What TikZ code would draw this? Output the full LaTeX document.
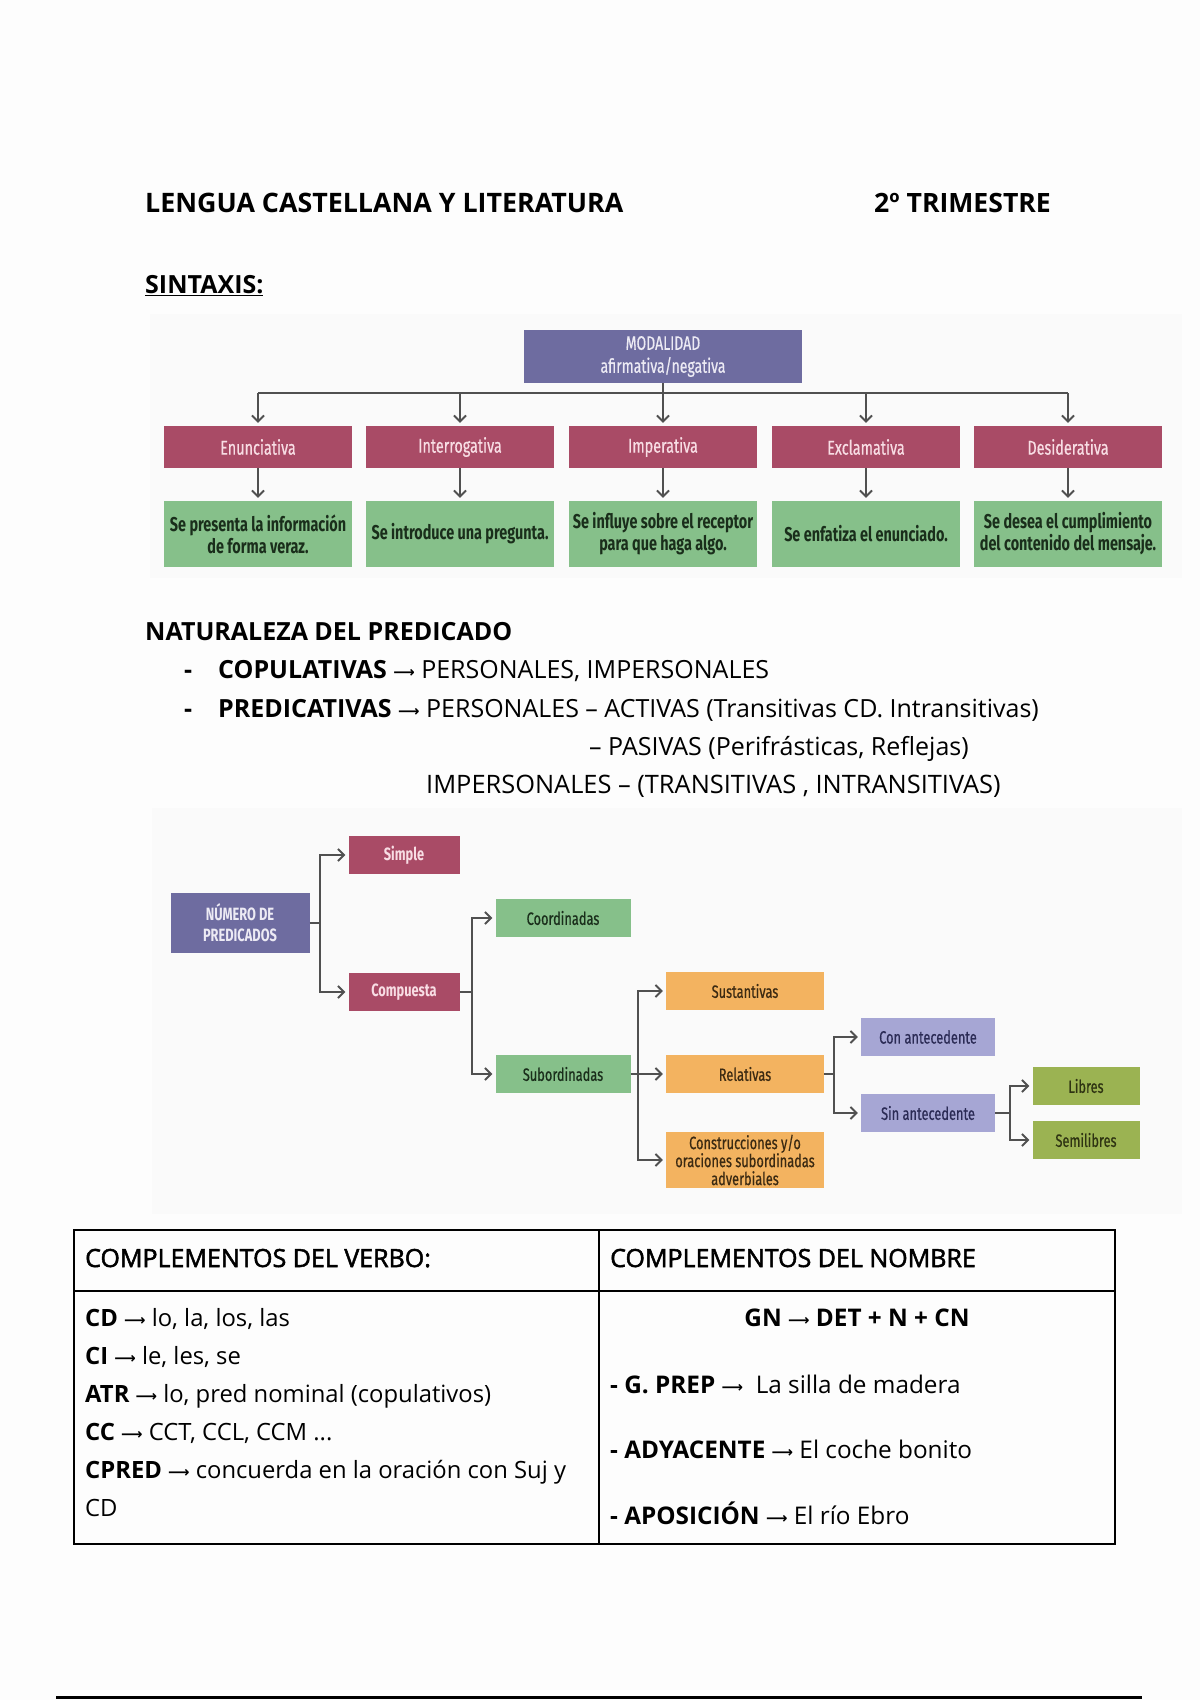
\documentclass[tikz,border=0pt]{standalone}
\usepackage{fontspec}
\setmainfont{Open Sans}
\newfontfamily\semib[FakeBold=2]{Open Sans}
\newfontfamily\condfont[FakeStretch=0.72]{Fira Sans}
\newfontfamily\condmed[FakeStretch=0.72,FakeBold=0.6]{Fira Sans}
\newfontfamily\arrfont{DejaVu Sans}
\usetikzlibrary{arrows.meta}
\definecolor{cPage}{HTML}{FDFDFD}
\definecolor{cPurple}{HTML}{6E6CA0}
\definecolor{cPurpleTxt}{HTML}{ECEAF4}
\definecolor{cRed}{HTML}{A94B66}
\definecolor{cRedTxt}{HTML}{F8DDE4}
\definecolor{cGreen}{HTML}{86C08A}
\definecolor{cGreenTxt}{HTML}{1A2E1B}
\definecolor{cOrange}{HTML}{F3B360}
\definecolor{cOrangeTxt}{HTML}{3B2A12}
\definecolor{cLav}{HTML}{A6A6D4}
\definecolor{cLavTxt}{HTML}{2B2B55}
\definecolor{cOlive}{HTML}{9BB352}
\definecolor{cOliveTxt}{HTML}{2E3312}
\definecolor{cLine}{HTML}{505050}
\definecolor{cPanel}{HTML}{FAFAFA}
\newcommand\arr{{\arrfont\fontsize{15}{15}\selectfont\raisebox{1pt}{⟶}}}
\tikzset{
  txt/.style={inner sep=0pt, anchor=base west, font=\fontsize{25}{30}\selectfont},
  ttxt/.style={txt, font=\fontsize{24.3}{30}\selectfont},
  ltxt/.style={txt, font=\fontsize{23.8}{30}\selectfont},
  box/.style={rectangle, inner sep=0pt, align=center},
  purplebox/.style={box, fill=cPurple, text=cPurpleTxt, font=\condmed\fontsize{19.5}{23}\selectfont},
  redbox/.style={box, fill=cRed, text=cRedTxt, font=\condmed\fontsize{20}{23}\selectfont},
  greenbox/.style={box, fill=cGreen, text=cGreenTxt, font=\condfont\bfseries\fontsize{20}{22}\selectfont},
  smallbox/.style={box, font=\condmed\fontsize{17.8}{18}\selectfont},
  greenbox2/.style={smallbox, fill=cGreen, text=cGreenTxt},
  orangebox/.style={smallbox, fill=cOrange, text=cOrangeTxt},
  lavbox/.style={smallbox, fill=cLav, text=cLavTxt},
  olivebox/.style={smallbox, fill=cOlive, text=cOliveTxt},
  conn/.style={draw=cLine, line width=2pt},
  arrw/.style={conn, -{Straight Barb[length=6pt,width=12pt,line width=1.9pt]}, shorten >=3pt},
}
\begin{document}
\begin{tikzpicture}[x=1pt,y=-1pt]
\fill[cPage] (0,0) rectangle (1200,1700);
\useasboundingbox (0,0) rectangle (1200,1700);
% panels
\fill[cPanel] (150,314) rectangle (1182,578);
\fill[cPanel] (152,808) rectangle (1182,1214);

% header
\node[txt, font=\fontsize{26.8}{30}\selectfont] (title) at (145,212) {\bfseries LENGUA CASTELLANA Y LITERATURA};
\node[txt, font=\fontsize{26.6}{30}\selectfont] (trim) at (874,212) {\bfseries 2º TRIMESTRE};
\node[txt] (sint) at (145,293) {\bfseries\underline{SINTAXIS:}};

% Diagram 1
\node[purplebox, minimum width=278pt, minimum height=53pt] (modal) at (663,356.5) {MODALIDAD\\afirmativa/negativa};
\foreach \n/\x/\t in {enun/258/Enunciativa, inte/460/Interrogativa, impe/663/Imperativa, excl/866/Exclamativa, desi/1068/Desiderativa}
  \node[redbox, minimum width=188pt, minimum height=42pt] (\n) at (\x,447) {\t};
\node[greenbox, minimum width=188pt, minimum height=66pt] (enunG) at (258,534) {Se presenta la información\\de forma veraz.};
\node[greenbox, minimum width=188pt, minimum height=66pt] (inteG) at (460,534) {Se introduce una pregunta.};
\node[greenbox, minimum width=188pt, minimum height=66pt] (impeG) at (663,534) {Se influye sobre el receptor\\para que haga algo.};
\node[greenbox, minimum width=188pt, minimum height=66pt] (exclG) at (866,534) {Se enfatiza el enunciado.};
\node[greenbox, minimum width=188pt, minimum height=66pt] (desiG) at (1068,534) {Se desea el cumplimiento\\del contenido del mensaje.};
\coordinate (bus) at (663,393);
\draw[conn] (enun.north |- bus) -- (desi.north |- bus);
\draw[arrw] (modal.south) -- (impe.north);
\foreach \n in {enun, inte, excl, desi}
  \draw[arrw] (\n.north |- bus) -- (\n.north);
\foreach \n in {enun, inte, impe, excl, desi}
  \draw[arrw] (\n.south) -- (\n G.north);

% Naturaleza
\node[txt] (nat) at (145,640) {\bfseries NATURALEZA DEL PREDICADO};
\node[txt] (b1) at (184,678) {\bfseries -};
\node[txt] (l1) at (218,678) {\bfseries COPULATIVAS \arr{} \mdseries PERSONALES, IMPERSONALES};
\node[txt] (b2) at (184,717) {\bfseries -};
\node[txt] (l2) at (218,717) {\bfseries PREDICATIVAS \arr{} \mdseries PERSONALES – ACTIVAS (Transitivas CD. Intransitivas)};
\node[txt] (l3) at (589,755) {– PASIVAS (Perifrásticas, Reflejas)};
\node[txt, font=\fontsize{25.4}{30}\selectfont] (l4) at (426,793) {IMPERSONALES – (TRANSITIVAS , INTRANSITIVAS)};

% Diagram 2
\node[purplebox, font=\condfont\bfseries\fontsize{17.8}{21}\selectfont, minimum width=139pt, minimum height=60pt] (num) at (240,923) {NÚMERO DE\\PREDICADOS};
\node[redbox, font=\condfont\bfseries\fontsize{17.8}{21}\selectfont, minimum width=111pt, minimum height=38pt] (simple) at (404,855) {Simple};
\node[redbox, font=\condfont\bfseries\fontsize{17.8}{21}\selectfont, minimum width=111pt, minimum height=38pt] (comp) at (404,992) {Compuesta};
\node[greenbox2, minimum width=135pt, minimum height=38pt] (coord) at (563,918) {Coordinadas};
\node[greenbox2, minimum width=135pt, minimum height=38pt] (subord) at (563,1074) {Subordinadas};
\node[orangebox, minimum width=158pt, minimum height=38pt] (sust) at (745,991) {Sustantivas};
\node[orangebox, minimum width=158pt, minimum height=38pt] (rel) at (745,1074) {Relativas};
\node[orangebox, minimum width=158pt, minimum height=56pt] (cons) at (745,1160) {Construcciones y/o\\oraciones subordinadas\\adverbiales};
\node[lavbox, minimum width=134pt, minimum height=38pt] (con) at (928,1037) {Con antecedente};
\node[lavbox, minimum width=134pt, minimum height=38pt] (sin) at (928,1113) {Sin antecedente};
\node[olivebox, minimum width=107pt, minimum height=38pt] (lib) at (1086,1086) {Libres};
\node[olivebox, minimum width=107pt, minimum height=38pt] (semi) at (1086,1140) {Semilibres};
\coordinate (j1) at (320,923);
\coordinate (j2) at (472,992);
\coordinate (j3) at (638,1074);
\coordinate (j4) at (834,1074);
\coordinate (j5) at (1010,1113);
\draw[conn] (num.east) -- (j1);
\draw[arrw] (j1) |- (simple.west);
\draw[arrw] (j1) |- (comp.west);
\draw[conn] (comp.east) -- (j2);
\draw[arrw] (j2) |- (coord.west);
\draw[arrw] (j2) |- (subord.west);
\draw[arrw] (subord.east) -- (rel.west);
\draw[arrw] (j3) |- (sust.west);
\draw[arrw] (j3) |- (cons.west);
\draw[conn] (rel.east) -- (j4);
\draw[arrw] (j4) |- (con.west);
\draw[arrw] (j4) |- (sin.west);
\draw[conn] (sin.east) -- (j5);
\draw[arrw] (j5) |- (lib.west);
\draw[arrw] (j5) |- (semi.west);

% Table
\draw[line width=2.2pt] (74,1230) rectangle (1115,1544);
\draw[line width=2.2pt] (74,1291) -- (1115,1291);
\draw[line width=2.2pt] (599,1230) -- (599,1544);
\node[txt, font=\semib\fontsize{25}{30}\selectfont] (h1) at (85,1267) {COMPLEMENTOS DEL VERBO:};
\node[txt, font=\semib\fontsize{25}{30}\selectfont] (h2) at (610,1267) {COMPLEMENTOS DEL NOMBRE};
\node[ltxt] (v1) at (85,1326) {\bfseries CD \arr{} \mdseries lo, la, los, las};
\node[ltxt] (v2) at (85,1364) {\bfseries CI \arr{} \mdseries le, les, se};
\node[ltxt] (v3) at (85,1402) {\bfseries ATR \arr{} \mdseries lo, pred nominal (copulativos)};
\node[ltxt] (v4) at (85,1440) {\bfseries CC \arr{} \mdseries CCT, CCL, CCM ...};
\node[ltxt] (v5) at (85,1478) {\bfseries CPRED \arr{} \mdseries concuerda en la oración con Suj y};
\node[ltxt] (v6) at (85,1516) {CD};
\node[ttxt, anchor=base] (n1) at (857,1326) {\bfseries GN \arr{} DET + N + CN};
\node[ttxt] (n2) at (610,1393) {\bfseries - G. PREP \arr{} \mdseries\ La silla de madera};
\node[ttxt] (n3) at (610,1458) {\bfseries - ADYACENTE \arr{} \mdseries El coche bonito};
\node[ttxt] (n4) at (610,1524) {\bfseries - APOSICIÓN \arr{} \mdseries El río Ebro};

% bottom rule
\draw[line width=3pt] (56,1697) -- (1142,1697);
\end{tikzpicture}
\end{document}
